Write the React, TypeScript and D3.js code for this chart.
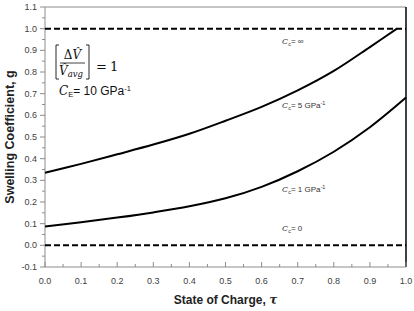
import React from 'react';
import * as d3 from 'd3';

// state of charge samples and swelling coefficient
const tauCc5 = [0, 0.1, 0.2, 0.3, 0.4, 0.5, 0.6, 0.7, 0.8, 0.9, 0.975];
const gCc5 = [0.335, 0.376, 0.42, 0.465, 0.515, 0.575, 0.639, 0.715, 0.805, 0.915, 1.0];
const tauCc1 = [0, 0.1, 0.2, 0.3, 0.4, 0.5, 0.6, 0.7, 0.8, 0.9, 1.0];
const gCc1 = [0.087, 0.106, 0.128, 0.152, 0.18, 0.217, 0.27, 0.342, 0.432, 0.545, 0.682];
const limitLines = [1.0, 0.0]; // Cc = infinity, Cc = 0

const xTicks = [0, 0.1, 0.2, 0.3, 0.4, 0.5, 0.6, 0.7, 0.8, 0.9, 1.0];
const yTicks = [-0.1, 0, 0.1, 0.2, 0.3, 0.4, 0.5, 0.6, 0.7, 0.8, 0.9, 1.0, 1.1];

const curveLabels = [
  { g: 0.93, text: '= ∞', sup: '' },
  { g: 0.635, text: '= 5 GPa', sup: '-1' },
  { g: 0.245, text: '= 1 GPa', sup: '-1' },
  { g: 0.065, text: '= 0', sup: '' },
];

const W = 414;
const H = 311;
const margin = { left: 45, right: 8, top: 7, bottom: 44 };

export default function App() {
  const x = d3.scaleLinear().domain([0, 1]).range([margin.left, W - margin.right]);
  const y = d3.scaleLinear().domain([-0.1, 1.1]).range([H - margin.bottom, margin.top]);

  const line = d3.line<[number, number]>()
    .x(d => x(d[0]))
    .y(d => y(d[1]))
    .curve(d3.curveCatmullRom);

  const minorX = d3.range(0.05, 1, 0.1);
  const minorY = d3.range(-0.05, 1.1, 0.1);
  const axisColor = '#8c8c8c';
  const labelColor = '#404040';
  const sans = '"Liberation Sans", Arial, sans-serif';
  const serif = '"DejaVu Serif", "Liberation Serif", serif';

  const x0 = x(0), x1 = x(1), yTop = y(1.1), yBot = y(-0.1);

  return (
    <svg width={W} height={H} style={{ position: 'absolute', left: 0, top: 0, background: '#fff' }}
      fontFamily={sans}>
      {/* frame */}
      <line x1={x0} x2={x1} y1={yTop} y2={yTop} stroke={axisColor} strokeWidth={1} />
      <line x1={x1} x2={x1} y1={yTop} y2={yBot} stroke="#000" strokeWidth={1.5} />
      <line x1={x0} x2={x0} y1={yTop} y2={yBot} stroke={axisColor} strokeWidth={1} />
      <line x1={x0} x2={x1} y1={yBot} y2={yBot} stroke={axisColor} strokeWidth={1} />

      {/* y ticks */}
      {yTicks.map(t => (
        <g key={'y' + t}>
          <line x1={x0 - 5} x2={x0} y1={y(t)} y2={y(t)} stroke={axisColor} />
          <text x={x0 - 8} y={y(t)} dy="0.35em" textAnchor="end" fontSize={9} fill={labelColor}>
            {t.toFixed(1)}
          </text>
        </g>
      ))}
      {minorY.map(t => (
        <line key={'my' + t} x1={x0 - 3} x2={x0} y1={y(t)} y2={y(t)} stroke={axisColor} />
      ))}

      {/* x ticks */}
      {xTicks.map(t => (
        <g key={'x' + t}>
          <line x1={x(t)} x2={x(t)} y1={yBot} y2={yBot - 5} stroke={axisColor} />
          <text x={x(t)} y={yBot + 17} textAnchor="middle" fontSize={9} fill={labelColor}>
            {t.toFixed(1)}
          </text>
        </g>
      ))}
      {minorX.map(t => (
        <line key={'mx' + t} x1={x(t)} x2={x(t)} y1={yBot} y2={yBot - 3} stroke={axisColor} />
      ))}

      {/* limit dashed lines */}
      {limitLines.map(v => (
        <line key={'l' + v} x1={x0} x2={x1} y1={y(v)} y2={y(v)} stroke="#000" strokeWidth={2}
          strokeDasharray="6,3" />
      ))}

      {/* curves */}
      <path d={line(tauCc5.map((t, i) => [t, gCc5[i]]) as [number, number][]) || ''}
        fill="none" stroke="#000" strokeWidth={2} />
      <path d={line(tauCc1.map((t, i) => [t, gCc1[i]]) as [number, number][]) || ''}
        fill="none" stroke="#000" strokeWidth={2} />

      {/* curve labels */}
      {curveLabels.map(l => (
        <text key={l.text} x={282} y={y(l.g)} fontSize={8} fill="#333">
          <tspan fontFamily={serif} fontStyle="italic">C</tspan>
          <tspan fontSize={5.5} dy={2}>c</tspan>
          <tspan dy={-2}>{l.text}</tspan>
          {l.sup && <tspan fontSize={5.5} dy={-3}>{l.sup}</tspan>}
        </text>
      ))}

      {/* equation box */}
      <g fill="#111">
        <path d="M59,45 L56,45 L56,79 L59,79" fill="none" stroke="#111" strokeWidth={0.9} />
        <path d="M86,45 L89,45 L89,79 L86,79" fill="none" stroke="#111" strokeWidth={0.9} />
        <text x={72.5} y={59} textAnchor="middle" fontFamily={serif} fontSize={12}>
          Δ<tspan fontStyle="italic">V̂</tspan>
        </text>
        <line x1={60} x2={85} y1={63} y2={63} stroke="#111" strokeWidth={0.8} />
        <text x={59} y={75} fontFamily={serif} fontSize={12} fontStyle="italic">
          V̂<tspan fontSize={8.5} dy={2}>avg</tspan>
        </text>
        <text x={96} y={71} fontFamily={serif} fontSize={13}>=</text>
        <text x={110} y={71} fontFamily={serif} fontSize={13}>1</text>
        <text x={59} y={95} fontSize={12}>
          <tspan fontFamily={serif} fontStyle="italic">C</tspan>
          <tspan fontSize={7.5} dy={2}>E</tspan>
          <tspan dy={-2}>= 10 GPa</tspan>
          <tspan fontSize={7.5} dy={-4}>-1</tspan>
        </text>
      </g>

      {/* axis titles */}
      <text x={(x0 + x1) / 2} y={304} textAnchor="middle" fontSize={12} fontWeight="bold" fill="#222">
        State of Charge, <tspan fontFamily={serif} fontStyle="italic">τ</tspan>
      </text>
      <text transform={`translate(14,${(yTop + yBot) / 2}) rotate(-90)`} textAnchor="middle"
        fontSize={12.5} fontWeight="bold" fill="#222">
        Swelling Coefficient, g
      </text>
    </svg>
  );
}
